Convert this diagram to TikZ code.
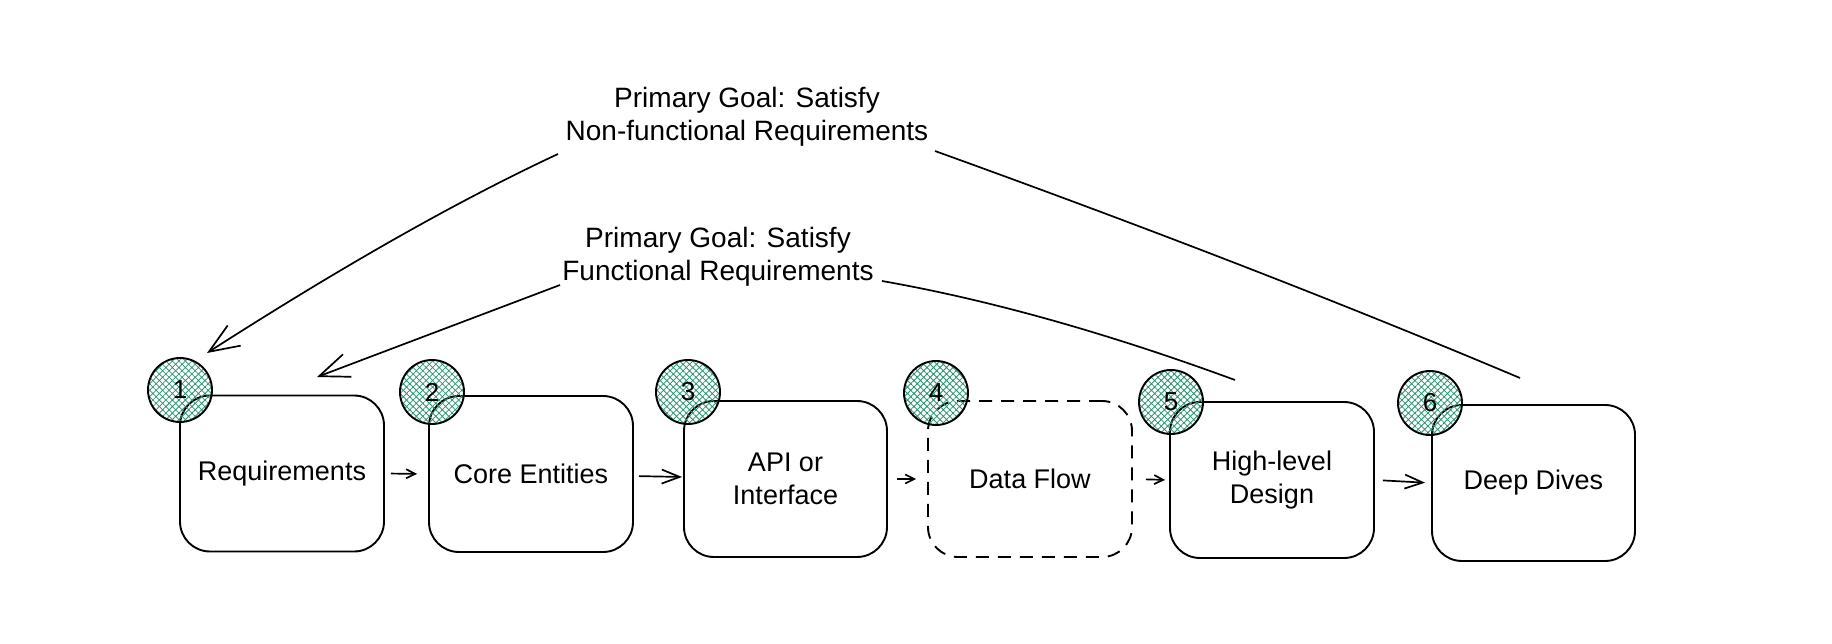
\documentclass[tikz,border=0pt]{standalone}
\usepackage{fontspec}
\setmainfont{Liberation Sans}
\usetikzlibrary{arrows.meta,patterns.meta}
\definecolor{hatchgreen}{HTML}{2A9473}
\begin{document}
\begin{tikzpicture}[x=1pt,y=-1pt,
  txt/.style={font=\fontsize{27}{33}\selectfont, align=center, inner sep=2pt},
  goal/.style={font=\fontsize{28}{33}\selectfont, align=center, inner sep=2pt},
  box/.style={draw, line width=1.9pt, rounded corners=30pt, minimum width=204pt,
    minimum height=156pt, inner sep=0pt, txt},
  dashbox/.style={box, dash pattern=on 13pt off 9pt},
  badge/.style={circle, draw, line width=1.9pt, minimum size=64pt, inner sep=0pt,
    pattern={Hatch[angle=45,distance=4.6pt,line width=0.8pt]}, pattern color=hatchgreen,
    font=\fontsize{26}{28}\selectfont},
  link/.style={line width=1.7pt},
  bigtip/.style={link, -{Straight Barb[length=30pt,width=24pt,line width=1.7pt]}},
  midtip/.style={link, -{Straight Barb[length=18pt,width=14pt,line width=1.7pt]}},
  smalltip/.style={link, -{Straight Barb[length=9pt,width=9pt,line width=1.7pt]}}
]
\fill[white] (0,0) rectangle (1832,644);
\useasboundingbox (0,0) rectangle (1832,644);

% boxes
\node[box] (b1) at (282,473.5) {Requirements};
\node[box] (b2) at (531,474) {Core Entities};
\node[box, minimum width=203pt] (b3) at (785.5,479) {API or\\Interface};
\node[dashbox] (b4) at (1030,479) {Data Flow};
\node[box] (b5) at (1272,480) {High-level\\Design};
\node[box, minimum width=203pt] (b6) at (1533.5,483) {Deep Dives};

% numbered badges
\node[badge] (c1) at (180,390) {1};
\node[badge] (c2) at (432,392) {2};
\node[badge] (c3) at (688,392) {3};
\node[badge] (c4) at (936,393) {4};
\node[badge] (c5) at (1171,402) {5};
\node[badge] (c6) at (1430,403) {6};

% flow arrows
\draw[smalltip, shorten <=6pt, shorten >=11pt] (b1.east) -- (b2.west);
\draw[midtip, shorten <=5pt, shorten >=1pt] (b2) -- (b3);
\draw[smalltip, shorten <=9pt, shorten >=11pt] (b3.east) -- (b4.west);
\draw[smalltip, shorten <=13pt, shorten >=4pt] (b4.east) -- (b5.west);
\draw[midtip, shorten <=8pt, shorten >=6pt] (b5.east) -- (b6.west);

% goal labels
\node[goal] (nf) at (747,117) {Primary Goal: Satisfy\\Non-functional Requirements};
\node[goal] (fn) at (718,257) {Primary Goal: Satisfy\\Functional Requirements};

% connector ends
\coordinate (nfL) at (558,154);
\coordinate (nfR) at (935,151);
\coordinate (t1) at (207,353);
\coordinate (s6) at (1520,378);
\coordinate (fL) at (560,285);
\coordinate (fR) at (882,281);
\coordinate (t2) at (317,377);
\coordinate (s5) at (1235,380);

% goal connectors
\draw[link] (s6) .. controls (1335,300) and (1140,225) .. (nfR);
\draw[bigtip] (nfL) .. controls (455,202) and (338,269) .. (t1);
\draw[link] (s5) .. controls (1107,333) and (990,300) .. (fR);
\draw[bigtip] (fL) -- (t2);
\end{tikzpicture}
\end{document}
